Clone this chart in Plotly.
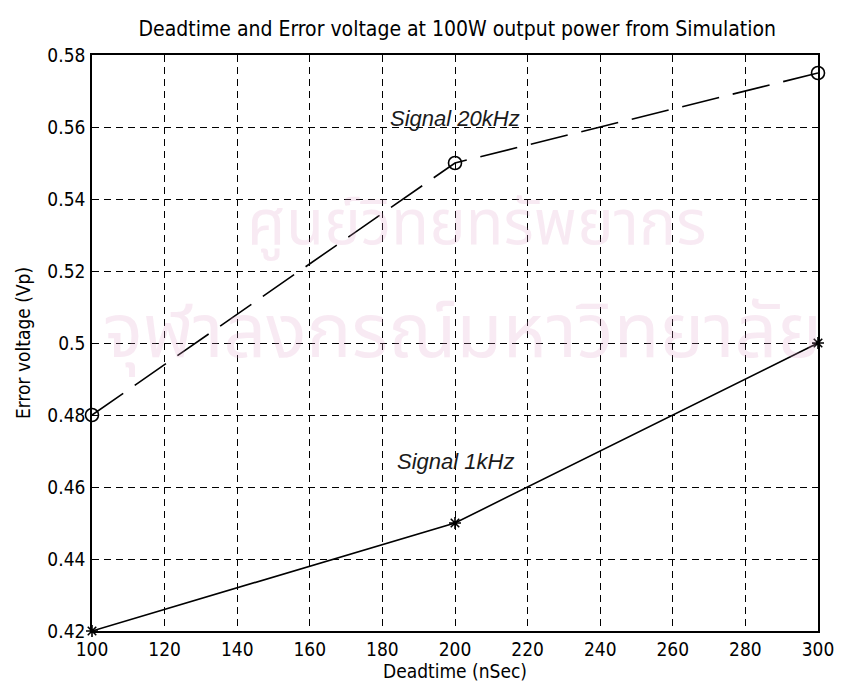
import plotly.graph_objects as go

# Deadtime sweep (nSec) and measured error voltage (Vp)
deadtime = [100, 200, 300]
err_20khz = [0.48, 0.55, 0.575]
err_1khz = [0.42, 0.45, 0.50]

x_ticks = [100, 120, 140, 160, 180, 200, 220, 240, 260, 280, 300]
y_ticks = [0.42, 0.44, 0.46, 0.48, 0.50, 0.52, 0.54, 0.56, 0.58]
y_tick_text = ["0.42", "0.44", "0.46", "0.48", "0.5", "0.52", "0.54", "0.56", "0.58"]

FONT = "DejaVu Sans Condensed, Liberation Sans Narrow, Arial Narrow, Liberation Sans, sans-serif"
THAI = "Noto Sans Thai, Noto Sans, DejaVu Sans, sans-serif"
WM_COLOR = "rgba(225,160,200,0.22)"

fig = go.Figure()

fig.add_trace(go.Scatter(
    x=deadtime, y=err_20khz, mode="lines+markers", name="Signal 20kHz",
    line=dict(color="black", width=1.6, dash="38px,14px"),
    marker=dict(symbol="circle-open", size=13, color="black", line=dict(width=1.6)),
    cliponaxis=False,
))
fig.add_trace(go.Scatter(
    x=deadtime, y=err_1khz, mode="lines+markers", name="Signal 1kHz",
    line=dict(color="black", width=1.6),
    marker=dict(symbol="asterisk-open", size=10, color="black", line=dict(width=1.6)),
    cliponaxis=False,
))

# Faint institutional watermark behind the plot
fig.add_annotation(text="ศูนย์วิทยทรัพยากร", xref="paper", yref="paper",
                   x=0.53, y=0.79, showarrow=False,
                   font=dict(size=62, color=WM_COLOR, family=THAI))
fig.add_annotation(text="จุฬาลงกรณ์มหาวิทยาลัย", xref="paper", yref="paper",
                   x=0.51, y=0.515, showarrow=False,
                   font=dict(size=75, color=WM_COLOR, family=THAI))

fig.add_annotation(x=200, y=0.5625, text="<i>Signal 20kHz</i>", showarrow=False,
                   font=dict(size=22, color="#1a1a1a", family="Liberation Sans, Arial, sans-serif"))
fig.add_annotation(x=200, y=0.467, text="<i>Signal 1kHz</i>", showarrow=False,
                   font=dict(size=22, color="#1a1a1a", family="Liberation Sans, Arial, sans-serif"))

axis_common = dict(
    showline=True, linecolor="black", linewidth=1.6, mirror=True,
    showgrid=True, gridcolor="black", gridwidth=1.3, griddash="7px,5px",
    zeroline=False, ticks="", tickfont=dict(size=19, color="black", family=FONT),
)

fig.update_xaxes(range=[100, 300], tickvals=x_ticks,
                 title=dict(text="Deadtime (nSec)", font=dict(size=19, color="black", family=FONT), standoff=0),
                 ticklabelstandoff=0, **axis_common)
fig.update_yaxes(range=[0.42, 0.58], tickvals=y_ticks, ticktext=y_tick_text,
                 title=dict(text="Error voltage (Vp)", font=dict(size=19, color="black", family=FONT), standoff=12),
                 ticklabelstandoff=1, **axis_common)

fig.update_layout(
    width=846, height=689,
    margin=dict(l=92, r=24, t=55, b=58),
    paper_bgcolor="white", plot_bgcolor="rgba(0,0,0,0)",
    showlegend=False,
    title=dict(text="Deadtime and Error voltage at 100W output power from Simulation",
               x=0.5405, xanchor="center", y=0.958, yanchor="middle",
               font=dict(size=21, color="black", family=FONT)),
)

fig.write_html("out.html")
